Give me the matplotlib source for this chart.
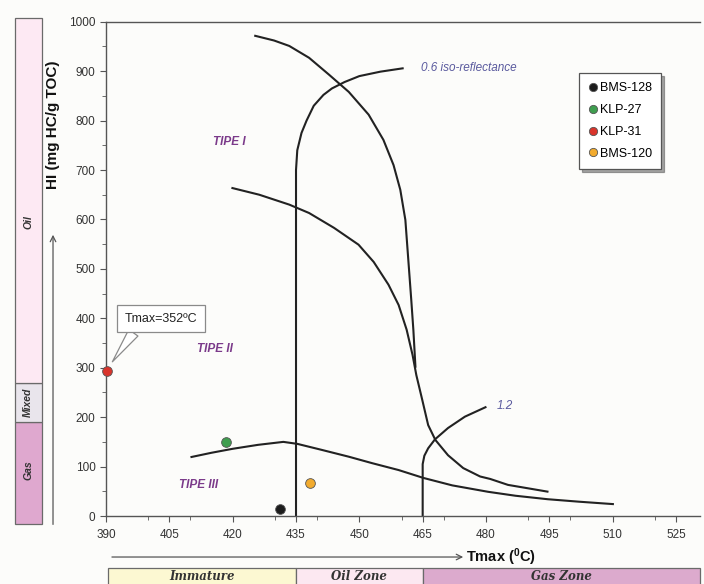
import numpy as np
import matplotlib
matplotlib.use('Agg')
import matplotlib.pyplot as plt
from matplotlib.patches import Rectangle
from matplotlib.transforms import blended_transform_factory

plt.rcParams['font.family'] = ['Liberation Sans', 'DejaVu Sans']
plt.rcParams['mathtext.default'] = 'regular'

### ------------------- data -------------------
# kerogen type curves (Tmax, HI)
tipe1_x = [425.1, 429.8, 433.4, 438.1, 442.8, 447.5, 452.2, 455.7, 458.1, 459.7,
           460.9, 461.6, 462.3, 462.8, 463.3]
tipe1_y = [972, 962, 951, 927, 893, 858, 812, 761, 710, 660, 599, 518, 437, 376, 300]

tipe2_x = [419.7, 426.3, 433.4, 438.1, 444.0, 449.8, 453.4, 456.9, 459.3, 461.2,
           462.6, 463.5, 464.9, 466.3, 468.0, 471.0, 474.6, 478.6, 481.0, 485.2, 494.8]
tipe2_y = [664, 650, 630, 613, 583, 549, 514, 468, 427, 377,
           326, 285, 235, 184, 154, 123, 97, 80, 75, 63, 49]

tipe3_x = [410.0, 415.0, 420.0, 426.0, 432.0, 435.3, 441.0, 447.5, 453.0, 459.3,
           465.2, 472.0, 480.5, 487.0, 494.6, 502.0, 510.3]
tipe3_y = [119, 128, 136, 144, 150, 146, 134, 120, 107, 93,
           77, 62, 49, 41, 34, 29, 24]

# iso-reflectance lines
iso06_x = [435.0, 435.0, 435.3, 436.3, 437.5, 439.2, 441.5, 443.5, 446.5, 450.0, 455.0, 460.5]
iso06_y = [0, 700, 740, 775, 800, 830, 852, 865, 878, 890, 899, 906]
iso12_x = [465.0, 465.0, 465.4, 466.3, 467.9, 471.0, 475.0, 480.1]
iso12_y = [0, 105, 122, 137, 155, 178, 201, 221]

# samples
samples = ['BMS-128', 'KLP-27', 'KLP-31', 'BMS-120']
tmax = [431.2, 418.3, 390.2, 438.2]
hi = [14, 150, 294, 66]
colors = ['#1c1c1c', '#3f9e4f', '#d9342b', '#f2ab2e']

# maturity zones along Tmax
zone_names = ['Immature', 'Oil Zone', 'Gas Zone']
zone_edges = [390.5, 435, 465, 530.7]
zone_colors = ['#fcf8d2', '#fce8f1', '#dcaacd']

# hydrocarbon type along HI
hc_names = ['Gas', 'Mixed', 'Oil']
hc_edges = [-17, 190, 270, 1008]
hc_colors = ['#dfa8cf', '#e9e5ec', '#fde9f3']

### ------------------- plotting -------------------
fig = plt.figure(figsize=(7.04, 5.84), dpi=100, facecolor='#fcfcfa')
ax = fig.add_axes([0.1506, 0.1164, 0.8438, 0.8464])
ax.set_facecolor('#fcfcfa')

lc = '#222222'
for xs, ys in [(tipe1_x, tipe1_y), (tipe2_x, tipe2_y), (tipe3_x, tipe3_y),
               (iso06_x, iso06_y), (iso12_x, iso12_y)]:
    ax.plot(xs, ys, color=lc, lw=1.5, solid_capstyle='butt')

for name, x, y, c in zip(samples, tmax, hi, colors):
    ax.plot(x, y, 'o', ms=7, color=c, mec='#555555', mew=0.6, label=name,
            clip_on=False, zorder=5)

ax.set_xlim(390, 530.7)
ax.set_ylim(0, 1000)
ax.set_xticks(np.arange(390, 526, 15))
ax.set_xticks([x for x in range(400, 530, 10) if x % 15 != 0], minor=True)
ax.set_yticks(np.arange(0, 1001, 100))
ax.set_yticks(np.arange(50, 1000, 100), minor=True)
ax.tick_params(axis='both', which='major', direction='out', length=4,
               color='#555555', labelsize=8.5, labelcolor='#333333')
ax.tick_params(axis='both', which='minor', direction='out', length=3, color='#555555')
ax.tick_params(axis='x', pad=5)
ax.spines['right'].set_visible(False)
for s in ['left', 'bottom', 'top']:
    ax.spines[s].set_color('#555555')
    ax.spines[s].set_linewidth(1.0)

# curve labels
purple = '#7b3a8a'
ax.text(419.2, 757, 'TIPE I', color=purple, fontsize=8.5, fontweight='bold',
        style='italic', ha='center', va='center')
ax.text(415.7, 338, 'TIPE II', color=purple, fontsize=8.5, fontweight='bold',
        style='italic', ha='center', va='center')
ax.text(412.0, 63, 'TIPE III', color=purple, fontsize=8.5, fontweight='bold',
        style='italic', ha='center', va='center')
blue = '#5a5a9e'
ax.text(464.5, 906, '0.6 iso-reflectance', color=blue, fontsize=8.5,
        style='italic', ha='left', va='center')
ax.text(484.4, 223, '1.2', color=blue, fontsize=8.5, style='italic',
        ha='center', va='center')

# callout for KLP-31
ax.annotate('Tmax=352ºC', xy=(391.5, 312), xytext=(403, 399),
            fontsize=9, ha='center', va='center', color='#222222',
            bbox=dict(boxstyle='square,pad=0.6', fc='white', ec='#8a8a8a', lw=0.9),
            arrowprops=dict(arrowstyle='wedge,tail_width=0.9,shrink_factor=0.5',
                            fc='white', ec='#8a8a8a', lw=0.9,
                            relpos=(0.2, 0.0), shrinkA=0, shrinkB=0),
            zorder=6)

leg = ax.legend(loc='upper left', bbox_to_anchor=(0.8224, 0.875),
                bbox_transform=fig.transFigure, fontsize=9, frameon=True,
                fancybox=False, shadow=True, framealpha=1, edgecolor='#555555',
                handlelength=0.7, handletextpad=0.2, labelspacing=0.78,
                borderpad=0.75, borderaxespad=0, markerscale=0.85)
leg.get_frame().set_linewidth(0.9)

# hydrocarbon bar at the left
tr_left = blended_transform_factory(fig.transFigure, ax.transData)
for name, lo, hi_, c in zip(hc_names, hc_edges[:-1], hc_edges[1:], hc_colors):
    ax.add_patch(Rectangle((0.0213, lo), 0.0379, hi_ - lo, transform=tr_left,
                           fc=c, ec='#6a6a6a', lw=0.9, clip_on=False))
ax.text(0.040, 93, 'Gas', transform=tr_left, rotation=90, fontsize=7.5,
        fontweight='bold', style='italic', color='#333333', ha='center', va='center')
ax.text(0.040, 230, 'Mixed', transform=tr_left, rotation=90, fontsize=7.5,
        fontweight='bold', style='italic', color='#333333', ha='center', va='center')
ax.text(0.040, 595, 'Oil', transform=tr_left, rotation=90, fontsize=7.5,
        fontweight='bold', style='italic', color='#333333', ha='center', va='center')

ax.annotate('', xy=(0.0753, 569), xytext=(0.0753, -17), xycoords=tr_left,
            textcoords=tr_left,
            arrowprops=dict(arrowstyle='->', color='#555555', lw=0.9,
                            shrinkA=0, shrinkB=0))
ax.text(0.0753, 791, 'HI (mg HC/g TOC)', transform=tr_left, rotation=90,
        fontsize=11, fontweight='bold', color='#111111', ha='center', va='center')

# maturity band at the bottom
tr_bot = blended_transform_factory(ax.transData, fig.transFigure)
ax.annotate('', xy=(474.6, 0.0462), xytext=(391.4, 0.0462), xycoords=tr_bot,
            textcoords=tr_bot,
            arrowprops=dict(arrowstyle='->', color='#555555', lw=0.9,
                            shrinkA=0, shrinkB=0))
ax.text(475.2, 0.0462, 'Tmax ($^0$C)', transform=tr_bot, fontsize=10.5,
        fontweight='bold', color='#111111', ha='left', va='center')
for name, lo, hi_, c in zip(zone_names, zone_edges[:-1], zone_edges[1:], zone_colors):
    ax.add_patch(Rectangle((lo, -0.01), hi_ - lo, 0.0374, transform=tr_bot,
                           fc=c, ec='#6a6a6a', lw=0.9, clip_on=False))
    ax.text((lo + hi_) / 2, 0.0125, name, transform=tr_bot, family='DejaVu Serif',
            fontsize=8.5, fontweight='bold', style='italic', color='#333333',
            ha='center', va='center')

plt.savefig('out.png', dpi=100, facecolor=fig.get_facecolor())
